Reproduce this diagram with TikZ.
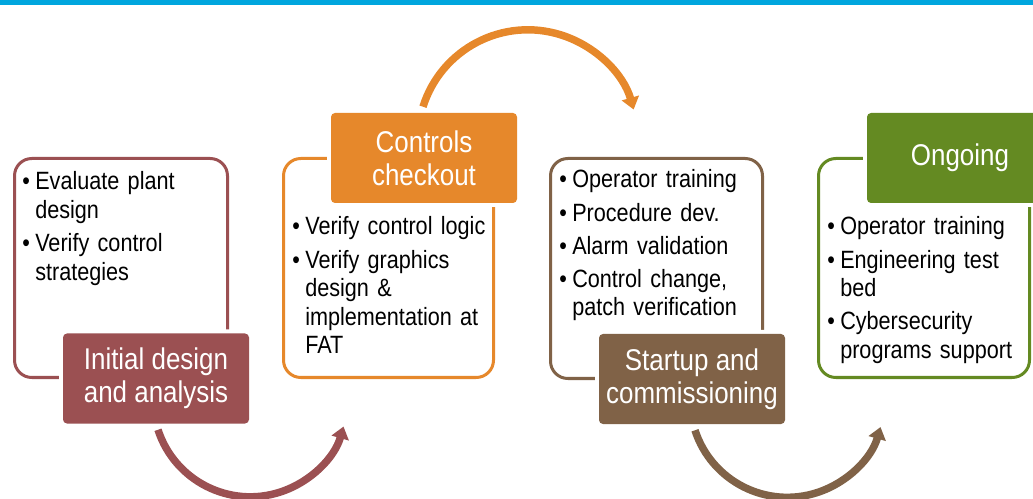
\documentclass[tikz,border=0pt]{standalone}
\usepackage{fontspec}
\setmainfont[FakeStretch=0.865]{Liberation Sans}
\usetikzlibrary{arrows.meta}
\definecolor{barblue}{RGB}{0,166,222}
\definecolor{cred}{RGB}{155,80,82}
\definecolor{corange}{RGB}{230,136,43}
\definecolor{cbrown}{RGB}{128,98,71}
\definecolor{cgreen}{RGB}{100,138,34}
\newcommand\itm[1]{\makebox[9.75pt][l]{\textbullet}#1}
\newcommand\ind{\hspace*{9.75pt}}
\tikzset{
  outline/.style={draw=#1, line width=2.25pt, rounded corners=13pt, inner sep=0pt, fill=white},
  heading/.style={fill=#1, text=white, rounded corners=3pt, inner sep=0pt,
    minimum width=139.5pt, minimum height=67.5pt, align=center,
    preaction={draw=white, line width=6pt},
    font=\fontsize{22.5pt}{24.75pt}\selectfont},
  bodytext/.style={anchor=base west, inner sep=0pt, text width=165pt, align=left,
    font=\fontsize{18.75pt}{21.4pt}\selectfont},
  cycle arrow/.style={draw=#1, line width=5.6pt, -{Triangle[width=13pt,length=9pt]}}
}
\begin{document}
\begin{tikzpicture}[x=0.75pt,y=-0.75pt]
\useasboundingbox (0,0) rectangle (1033,499);
\clip (0,0) rectangle (1033,499);
\fill[barblue] (0,0) rectangle (1033,5) coordinate (barcorner);
% outline boxes
\node[outline=cred, minimum width=159.75pt, minimum height=164.25pt] (b1) at (121,268) {};
\node[outline=corange, minimum width=157.5pt, minimum height=164.25pt] (b2) at (388.5,268) {};
\node[outline=cbrown, minimum width=159pt, minimum height=165pt] (b3) at (656.5,268.5) {};
\node[outline=cgreen, minimum width=158.25pt, minimum height=164.25pt] (b4) at (924,268) {};
% headings
\node[heading=cred] (h1) at (156,378.5) {Initial design\\and analysis};
\node[heading=corange] (h2) at (424,158) {Controls\\checkout};
\node[heading=cbrown] (h3) at (692,379) {Startup and\\commissioning};
\node[heading=cgreen] (h4) at (960,158) {Ongoing};
% body texts
\node[bodytext] (t1) at (22,190) {\itm{Evaluate plant}\\\ind design\\[3.4pt]\itm{Verify control}\\\ind strategies};
\node[bodytext] (t2) at (292,235) {\itm{Verify control logic}\\[3.4pt]\itm{Verify graphics}\\\ind design \&\\\ind implementation at\\\ind FAT};
\node[bodytext] (t3) at (559,188) {\itm{Operator training}\\[3.4pt]\itm{Procedure dev.}\\[3.4pt]\itm{Alarm validation}\\[3.4pt]\itm{Control change,}\\\ind patch verification};
\node[bodytext] (t4) at (827,235) {\itm{Operator training}\\[3.4pt]\itm{Engineering test}\\\ind bed\\[3.4pt]\itm{Cybersecurity}\\\ind programs support};
% cycle arrows
\draw[cycle arrow=cred] (h1.south) ++(2,6) arc[start angle=162, end angle=16, radius=97];
\draw[cycle arrow=corange] (h2.north) ++(-1,-6) arc[start angle=-162.5, end angle=-16, radius=110];
\draw[cycle arrow=cbrown] (h3.south) ++(3,6) arc[start angle=162, end angle=16, radius=97];
\end{tikzpicture}
\end{document}
